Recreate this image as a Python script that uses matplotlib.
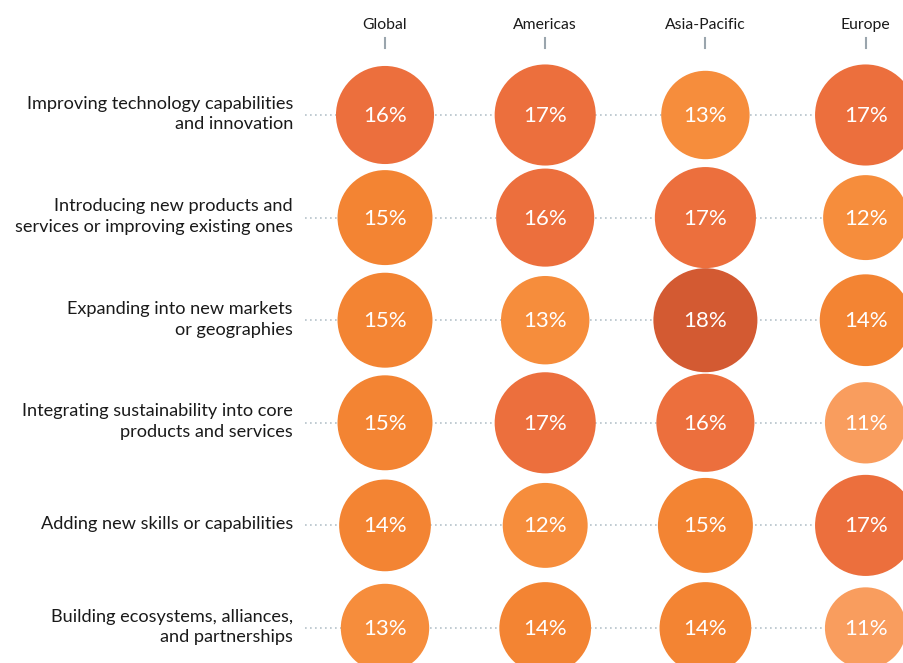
import matplotlib
matplotlib.use("Agg")
import matplotlib.pyplot as plt
from matplotlib.patches import Circle
import numpy as np

regions = ["Global", "Americas", "Asia-Pacific", "Europe"]
priorities = [
    "Improving technology capabilities\nand innovation",
    "Introducing new products and\nservices or improving existing ones",
    "Expanding into new markets\nor geographies",
    "Integrating sustainability into core\nproducts and services",
    "Adding new skills or capabilities",
    "Building ecosystems, alliances,\nand partnerships",
]
global_vals = [16, 15, 15, 15, 14, 13]
americas_vals = [17, 16, 13, 17, 12, 14]
asia_vals = [13, 17, 18, 16, 15, 14]
europe_vals = [17, 12, 14, 11, 17, 11]

values = np.array([global_vals, americas_vals, asia_vals, europe_vals])


def shade(v):
    if v >= 18:
        return "#d35a32"
    if v >= 16:
        return "#ec6f3d"
    if v >= 14:
        return "#f38433"
    if v >= 12:
        return "#f68d3c"
    return "#f99d5e"


plt.rcParams["font.family"] = ["Lato", "DejaVu Sans"]

fig = plt.figure(figsize=(9.04, 6.63), dpi=100)
ax = fig.add_axes([0, 0, 1, 1])
ax.set_xlim(0, 904)
ax.set_ylim(663, 0)
ax.set_aspect("equal")
ax.axis("off")

col_x = 385 + 160.2 * np.arange(len(regions))
row_y = 115 + 102.6 * np.arange(len(priorities))
k = 12.26  # radius scale, area proportional to value

for j, y in enumerate(row_y):
    ax.plot([305, 904], [y, y], color="#b5c2ca", lw=1.2,
            linestyle=(0, (1, 2)), zorder=1)
    ax.text(293, y - 1, priorities[j], ha="right", va="center",
            fontsize=13.1, color="#1a1a1a", linespacing=1.37)

for i, x in enumerate(col_x):
    ax.text(x, 25, regions[i], ha="center", va="center",
            fontsize=11.3, color="#1a1a1a")
    ax.plot([x, x], [38, 48], color="#9aa5ad", lw=1.5)
    for j, y in enumerate(row_y):
        v = values[i, j]
        ax.add_patch(Circle((x, y), k * np.sqrt(v), color=shade(v),
                            zorder=2, lw=0))
        ax.text(x, y + 1, f"{v}%", ha="center", va="center",
                fontsize=16, color="white", zorder=3)

fig.savefig("out.png", dpi=100)
